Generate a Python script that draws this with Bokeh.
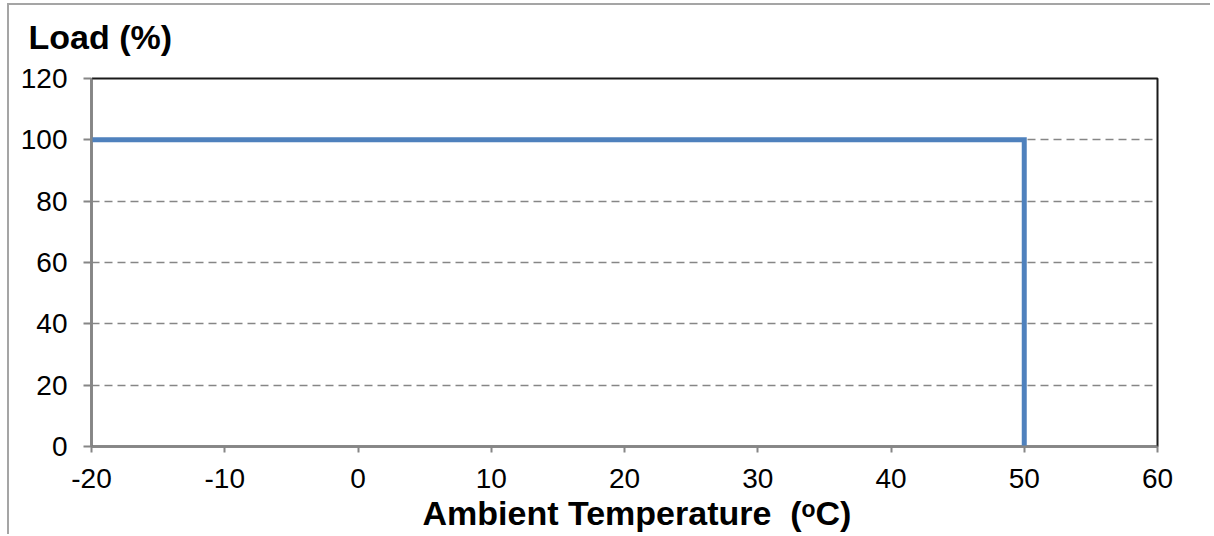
from bokeh.plotting import figure
from bokeh.models import Range1d, FixedTicker, ColumnDataSource, Title, LinearAxis
from bokeh.embed import file_html
from bokeh.resources import INLINE

# ---- data ----
temperature = [-20, 50, 50]
load = [100, 100, 0]
x_ticks = [-20, -10, 0, 10, 20, 30, 40, 50, 60]
y_ticks = [0, 20, 40, 60, 80, 100, 120]
x_tick_labels = {t: str(t) for t in x_ticks}
y_title = "Load (%)"
x_title = "Ambient Temperature \u00a0(\u1d52C)"

FONT = "Liberation Sans"
GRAY = "#868686"

p = figure(width=1203, height=531, output_backend="svg", toolbar_location=None,
           x_range=Range1d(-20, 60), y_range=Range1d(0, 120),
           min_border_left=82, min_border_right=55, min_border_top=73, min_border_bottom=90)
p.styles = {"border-top": "2px solid #a5a5a5", "border-left": "2px solid #a5a5a5",
            "margin-top": "3px", "margin-left": "7px"}

p.outline_line_color = "#1a1a1a"
p.outline_line_width = 2

src = ColumnDataSource(dict(t=temperature, l=load))
p.line("t", "l", source=src, line_color="#4F81BD", line_width=5, line_join="miter")

# axes
p.xaxis.ticker = FixedTicker(ticks=x_ticks)
p.xaxis.major_label_overrides = x_tick_labels
p.yaxis.ticker = FixedTicker(ticks=y_ticks)
for ax in (p.xaxis[0], p.yaxis[0]):
    ax.axis_line_color = GRAY
    ax.axis_line_width = 2
    ax.major_tick_line_color = GRAY
    ax.major_tick_line_width = 2
    ax.major_tick_in = 0
    ax.minor_tick_line_color = None
    ax.major_label_text_font = FONT
    ax.major_label_text_font_size = "28px"
    ax.major_label_text_color = "black"
p.yaxis.major_tick_out = 8
p.yaxis.major_label_standoff = 16
p.xaxis.major_tick_out = 6
p.xaxis.major_label_standoff = 16

# grid
p.xgrid.visible = False
p.ygrid.ticker = FixedTicker(ticks=y_ticks)
p.ygrid.grid_line_color = GRAY
p.ygrid.grid_line_width = 1.5
p.ygrid.grid_line_dash = "8 5"

# spacer axis above the frame (white tick, empty label) to lift the y title
spacer = LinearAxis(ticker=FixedTicker(ticks=[-20]), axis_line_color=None,
                    major_tick_out=18, major_tick_in=0, major_tick_line_color="white",
                    minor_tick_line_color=None, major_label_overrides={-20: ""},
                    major_label_standoff=0, major_label_text_font_size="1px")
p.add_layout(spacer, "above")

# y title (top-left), outside the spacer
p.add_layout(Title(text=y_title, align="left", offset=-63, standoff=10,
                   text_font=FONT, text_font_size="34px", text_font_style="bold",
                   text_color="black"), "above")

# x title
p.add_layout(Title(text=x_title, align="left", offset=331, vertical_align="top", standoff=6,
                   text_font=FONT, text_font_size="34px", text_font_style="bold",
                   text_color="black"), "below")

open("out.html", "w").write(file_html(p, INLINE))
